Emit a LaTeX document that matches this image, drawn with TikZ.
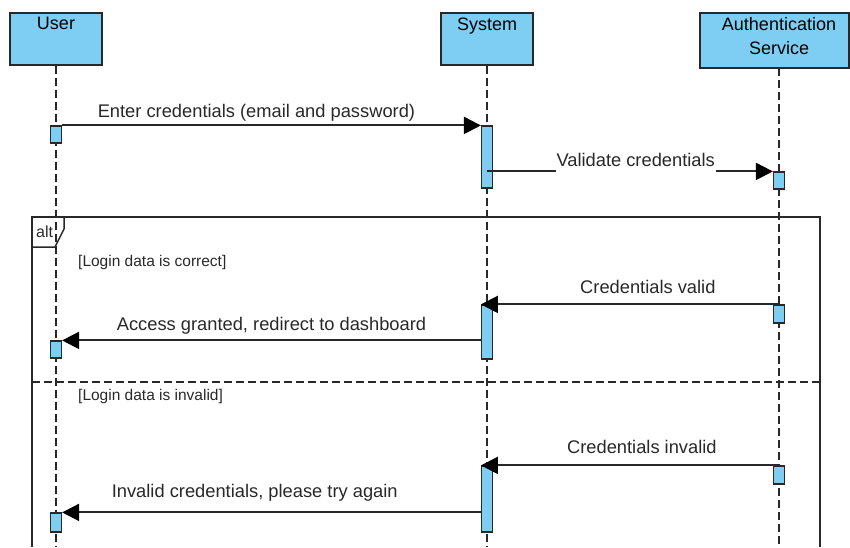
\documentclass[tikz,border=0pt]{standalone}
\usepackage{fontspec}
\setmainfont{Liberation Sans}
\usepackage{tikz}
\usepackage{xcolor}
\usetikzlibrary{arrows.meta}
\definecolor{lifeblue}{RGB}{126,206,244}
\definecolor{linegray}{RGB}{40,40,40}
\tikzset{
    actor-box/.style = {draw=linegray, fill=lifeblue, line width=1.5pt, rectangle, minimum width=92pt, minimum height=52pt, inner sep=0pt},
    actor-title/.style = {anchor=north, inner sep=0pt, align=center, font=\fontsize{18}{24}\selectfont},
    act-bar/.style = {draw=linegray, fill=lifeblue, line width=1.2pt, rectangle, minimum width=11pt, inner sep=0pt},
    life-line/.style = {draw=linegray, line width=1.2pt, dash pattern=on 8pt off 4pt},
    frame-line/.style = {draw=linegray, line width=1.5pt},
    msg/.style = {draw=linegray, line width=2pt, -{Triangle[length=17pt,width=17pt,fill=black,color=black]}},
    msg-label/.style = {font=\fontsize{18.3}{20}\selectfont, text=linegray, inner sep=0pt, anchor=base},
    guard/.style = {font=\fontsize{15.5}{17}\selectfont, text=linegray, anchor=west, inner sep=0pt},
}

\begin{document}
\begin{tikzpicture}[x=1pt, y=-1pt]
\useasboundingbox (0,0) rectangle (850,547);
\coordinate (bottom) at (0,547);

% participants
\node[actor-box] (user) at (56,39) {};
\node[actor-box] (system) at (487,39) {};
\node[actor-box, minimum width=149pt, minimum height=55pt] (auth) at (774.5,40.5) {};
\coordinate (auth-life) at (779,68);
\node[actor-title, yshift=-5pt] (user-t) at (user.north) {User};
\node[actor-title, yshift=-5pt] (system-t) at (system.north) {System};
\node[actor-title, yshift=-5pt] (auth-t) at (auth-life |- auth.north) {Authentication\\Service};

% lifelines
\draw[life-line] (user.south) -- (user.south |- bottom);
\draw[life-line] (system.south) -- (system.south |- bottom);
\draw[life-line] (auth-life) -- (auth-life |- bottom);

% alt frame
\draw[frame-line] (32,547) -- (32,217) -- (820,217) -- (820,547);
\draw[frame-line] (32,247) -- (55,247) -- (64,229) -- (64,217);
\node[anchor=base west, inner sep=0pt, text=linegray, font=\fontsize{16}{18}\selectfont] (alt) at (36,237) {alt};
\draw[life-line] (32,382) -- (820,382);
\node[guard] (g1) at (78,262) {[Login data is correct]};
\node[guard] (g2) at (78,396) {[Login data is invalid]};

% activations
\node[act-bar, minimum height=17pt] (u1) at (56,134.5) {};
\node[act-bar, minimum height=62pt] (s1) at (487,157) {};
\node[act-bar, minimum height=17pt] (a1) at (779,180.5) {};
\node[act-bar, minimum height=18pt] (a2) at (779,314) {};
\node[act-bar, minimum height=54pt] (s2) at (487,332) {};
\node[act-bar, minimum height=17pt] (u2) at (56,349.5) {};
\node[act-bar, minimum height=18pt] (a3) at (779,475) {};
\node[act-bar, minimum height=66pt] (s3) at (487,499) {};
\node[act-bar, minimum height=19pt] (u3) at (56,522.5) {};

% messages
\draw[msg] (u1.north east) -- node[msg-label, pos=0.464, yshift=8pt] (m1) {Enter credentials (email and password)} (s1.north west);
\draw[msg] (s1 |- a1.north) -- node[msg-label, pos=0.52, yshift=5pt, fill=white, inner xsep=1pt, inner ysep=1pt, text depth=6pt] (m2) {Validate credentials} (a1.north west);
\draw[msg] (a2.north) -- node[msg-label, pos=0.44, yshift=11pt] (m3) {Credentials valid} (s2.north west);
\draw[msg] (s2.west |- u2.north) -- node[msg-label, pos=0.5, yshift=10pt] (m4) {Access granted, redirect to dashboard} (u2.north east);
\draw[msg] (a3.north) -- node[msg-label, pos=0.46, yshift=12pt] (m5) {Credentials invalid} (s3.north west);
\draw[msg] (s3.west |- u3.north) -- node[msg-label, pos=0.54, yshift=15pt] (m6) {Invalid credentials, please try again} (u3.north east);
\end{tikzpicture}
\end{document}
